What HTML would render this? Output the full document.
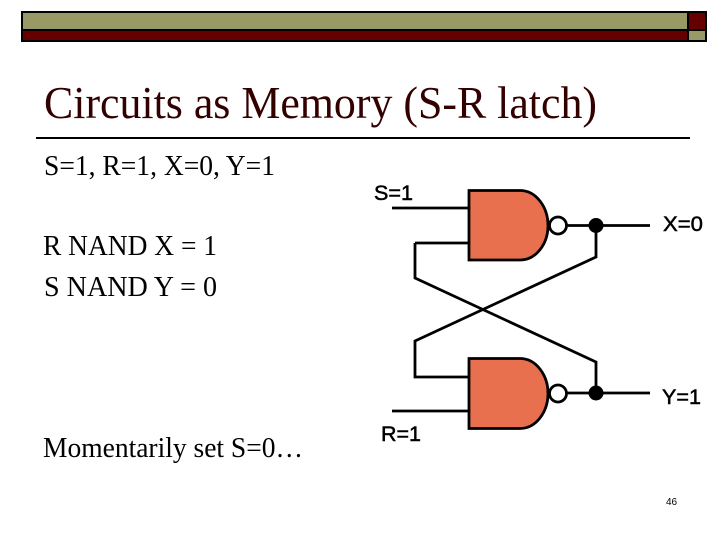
<!DOCTYPE html>
<html><head><meta charset="utf-8"><style>
html,body{margin:0;padding:0;background:#fff;width:720px;height:540px;overflow:hidden}
svg{display:block}
</style></head><body>
<svg width="720" height="540" viewBox="0 0 720 540" xmlns="http://www.w3.org/2000/svg">
<rect width="720" height="540" fill="#fff"/>
<rect x="21" y="11" width="686" height="31" fill="#000"/>
<rect x="23" y="13" width="664" height="16" fill="#999966"/>
<rect x="689" y="13" width="16" height="16" fill="#660000"/>
<rect x="23" y="31" width="664" height="9" fill="#660000"/>
<rect x="689" y="31" width="16" height="9" fill="#999966"/>
<text x="44" y="118" font-family="Liberation Serif,serif" font-size="46" textLength="553" lengthAdjust="spacingAndGlyphs" fill="#330000">Circuits as Memory (S-R latch)</text>
<rect x="36" y="137" width="654" height="2" fill="#000"/>
<g font-family="Liberation Serif,serif" font-size="28" fill="#000">
<text x="44" y="175" textLength="231" lengthAdjust="spacingAndGlyphs">S=1, R=1, X=0, Y=1</text>
<text x="43" y="255" textLength="174" lengthAdjust="spacingAndGlyphs">R NAND X = 1</text>
<text x="44" y="296" textLength="173" lengthAdjust="spacingAndGlyphs">S NAND Y = 0</text>
<text x="43" y="457" textLength="260" lengthAdjust="spacingAndGlyphs">Momentarily set S=0…</text>
</g>
<g fill="none" stroke="#000" stroke-width="2.800">
<path d="M392 208H469M415 243H469M415 243V278L596 362V393M596 225V257L415 341V377H469M392 411H469M566 225.500H650M566 393H650"/>
</g>
<g fill="#e9704e" stroke="#000" stroke-width="2.800">
<path d="M469 190.500H520C536 190.500 548 207 548 225.500C548 244 536 260 520 260H469Z"/>
<path d="M469 358.500H520C536 358.500 548 375 548 393.500C548 412 536 428.500 520 428.500H469Z"/>
</g>
<g fill="#fff" stroke="#000" stroke-width="2.800">
<circle cx="558" cy="225.500" r="8.500"/>
<circle cx="558" cy="393.500" r="8.500"/>
</g>
<circle cx="596" cy="225.500" r="7.500" fill="#000"/>
<circle cx="596" cy="393" r="7.500" fill="#000"/>
<g font-family="Liberation Sans,sans-serif" font-size="21" fill="#000" stroke="#000" stroke-width="0.500">
<text x="374" y="200" textLength="39" lengthAdjust="spacingAndGlyphs">S=1</text>
<text x="663" y="231" textLength="40" lengthAdjust="spacingAndGlyphs">X=0</text>
<text x="662" y="404" textLength="39" lengthAdjust="spacingAndGlyphs">Y=1</text>
<text x="381" y="441" textLength="40" lengthAdjust="spacingAndGlyphs">R=1</text>
</g>
<text x="666" y="505" font-family="Liberation Sans,sans-serif" font-size="10" fill="#000">46</text>
</svg>
</body></html>
